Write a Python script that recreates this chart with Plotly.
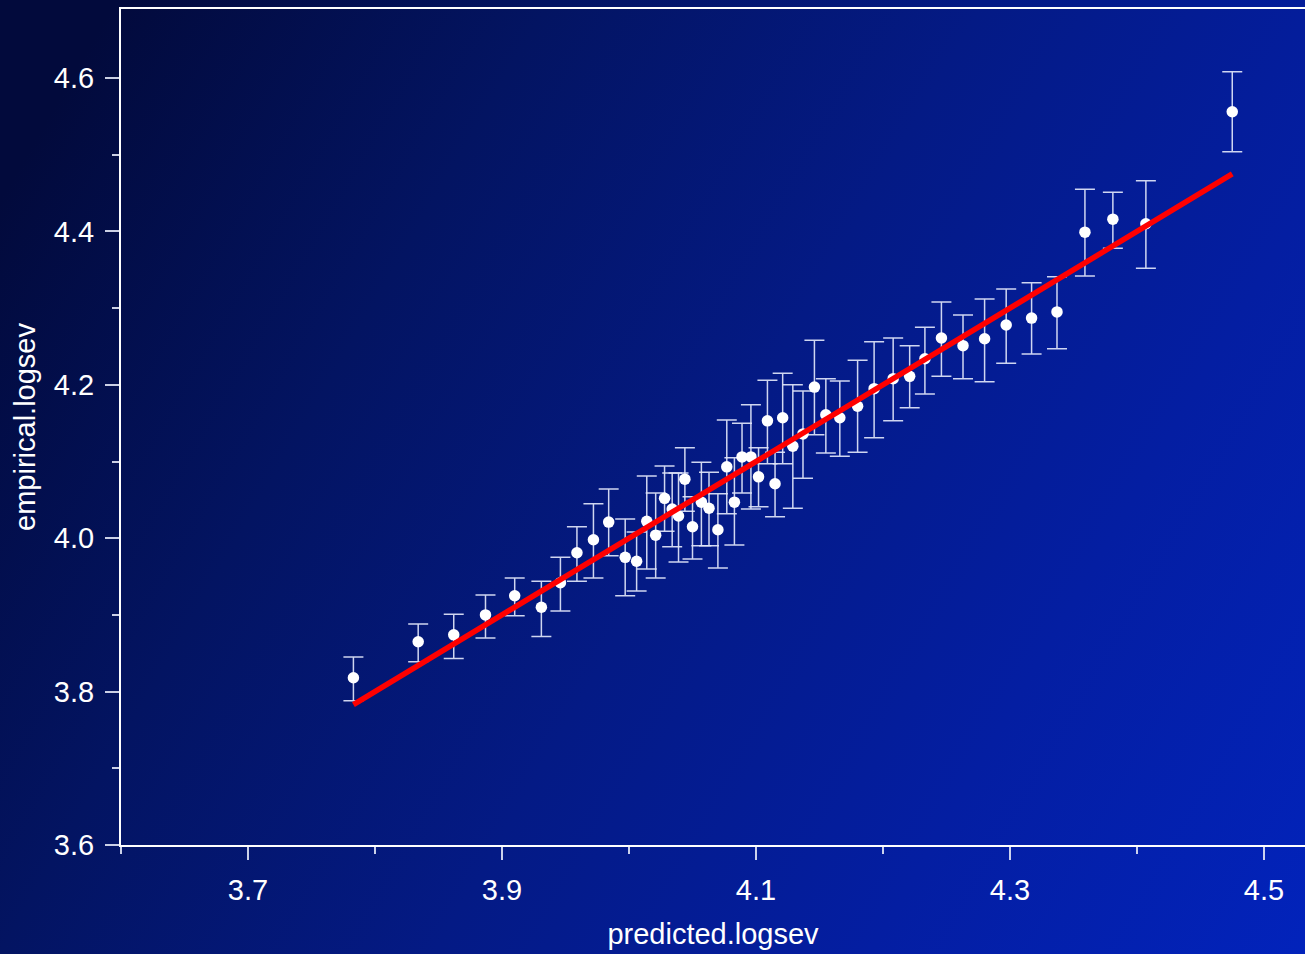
import base64
import plotly.graph_objects as go

# ---- data ----
predicted = [3.783, 3.834, 3.862, 3.887, 3.910, 3.931, 3.946, 3.959, 3.972, 3.984,
             3.997, 4.006, 4.014, 4.021, 4.028, 4.034, 4.039, 4.044, 4.050, 4.057,
             4.063, 4.070, 4.077, 4.083, 4.089, 4.096, 4.102, 4.109, 4.115, 4.121,
             4.129, 4.137, 4.146, 4.155, 4.166, 4.180, 4.193, 4.208, 4.221, 4.233,
             4.246, 4.263, 4.280, 4.297, 4.317, 4.337, 4.359, 4.381, 4.407, 4.475]
empirical = [3.818, 3.865, 3.874, 3.900, 3.925, 3.910, 3.942, 3.981, 3.998, 4.021,
             3.975, 3.970, 4.022, 4.004, 4.052, 4.038, 4.029, 4.077, 4.015, 4.047,
             4.039, 4.011, 4.093, 4.047, 4.106, 4.106, 4.080, 4.153, 4.071, 4.157,
             4.120, 4.136, 4.197, 4.161, 4.157, 4.172, 4.195, 4.208, 4.211, 4.234,
             4.261, 4.251, 4.260, 4.278, 4.287, 4.295, 4.399, 4.416, 4.410, 4.556]
upper = [3.845, 3.888, 3.901, 3.926, 3.948, 3.944, 3.975, 4.015, 4.045, 4.064,
         4.025, 4.008, 4.081, 4.059, 4.094, 4.085, 4.085, 4.118, 4.054, 4.099,
         4.086, 4.058, 4.154, 4.105, 4.150, 4.174, 4.118, 4.206, 4.112, 4.215,
         4.200, 4.192, 4.258, 4.208, 4.205, 4.232, 4.256, 4.261, 4.251, 4.275,
         4.308, 4.291, 4.312, 4.325, 4.333, 4.341, 4.455, 4.451, 4.466, 4.608]
lower = [3.788, 3.839, 3.843, 3.870, 3.899, 3.872, 3.905, 3.944, 3.948, 3.977,
         3.925, 3.931, 3.960, 3.948, 4.009, 3.989, 3.969, 4.035, 3.973, 3.990,
         3.990, 3.961, 4.032, 3.991, 4.059, 4.038, 4.041, 4.097, 4.028, 4.097,
         4.039, 4.078, 4.135, 4.111, 4.107, 4.112, 4.131, 4.153, 4.170, 4.188,
         4.211, 4.208, 4.204, 4.228, 4.240, 4.247, 4.342, 4.378, 4.352, 4.504]

x_ticks = [3.7, 3.9, 4.1, 4.3, 4.5]
y_ticks = [3.6, 3.8, 4.0, 4.2, 4.4, 4.6]

err_plus = [u - e for u, e in zip(upper, empirical)]
err_minus = [e - l for e, l in zip(empirical, lower)]

W, H = 1305, 954
ML, MR, MT, MB = 121, 0, 9, 109
PW, PH = W - ML - MR, H - MT - MB

# background gradient (decorative)
svg = f'''<svg xmlns="http://www.w3.org/2000/svg" width="{W}" height="{H}" viewBox="0 0 {W} {H}" preserveAspectRatio="none">
<defs><linearGradient id="g" gradientUnits="userSpaceOnUse" x1="0" y1="200" x2="{W}" y2="{H}">
<stop offset="0" stop-color="#020a3c"/>
<stop offset="0.25" stop-color="#031462"/>
<stop offset="0.5" stop-color="#041a85"/>
<stop offset="0.75" stop-color="#041ea2"/>
<stop offset="1" stop-color="#0223bb"/>
</linearGradient></defs>
<rect x="0" y="0" width="{W}" height="{H}" fill="url(#g)"/>
</svg>'''
src = "data:image/svg+xml;base64," + base64.b64encode(svg.encode()).decode()

fig = go.Figure()

fig.add_trace(go.Scatter(
    x=predicted, y=empirical, mode="markers",
    marker=dict(color="white", size=11.5, line=dict(width=0)),
    error_y=dict(type="data", symmetric=False, array=err_plus, arrayminus=err_minus,
                 color="rgba(225,230,250,0.92)", thickness=1.5, width=10),
    showlegend=False, hoverinfo="skip",
))

fig.add_trace(go.Scatter(
    x=[min(predicted), max(predicted)], y=[min(predicted), max(predicted)],
    mode="lines", line=dict(color="#ff0000", width=5.5),
    showlegend=False, hoverinfo="skip",
))

font = dict(family="Liberation Sans, Arial, sans-serif", color="white", size=29)

fig.update_layout(
    width=W, height=H,
    margin=dict(l=ML, r=MR, t=MT, b=MB, pad=0),
    paper_bgcolor="#041a85",
    plot_bgcolor="rgba(0,0,0,0)",
    font=font,
    images=[dict(source=src, xref="paper", yref="paper",
                 x=-ML / PW, y=1 + MT / PH, sizex=W / PW, sizey=H / PH,
                 xanchor="left", yanchor="top", sizing="stretch", layer="below")],
    xaxis=dict(
        range=[3.6, 3.6 + PW / 1270.0],
        tickvals=x_ticks, ticktext=[f"{v:.1f}" for v in x_ticks],
        ticks="outside", ticklen=13, tickwidth=1.5, tickcolor="rgba(225,230,245,0.9)",
        minor=dict(tickvals=[3.6, 3.8, 4.0, 4.2, 4.4], ticks="outside", ticklen=7,
                   tickwidth=1.5, tickcolor="rgba(225,230,245,0.9)", showgrid=False),
        ticklabelstandoff=5,
        showline=True, linecolor="white", linewidth=2, mirror=True,
        showgrid=False, zeroline=False,
        title=dict(text="predicted.logsev", standoff=19, font=font),
        tickfont=font,
    ),
    yaxis=dict(
        range=[3.6, 3.6 + PH / 767.0],
        tickvals=y_ticks, ticktext=[f"{v:.1f}" for v in y_ticks],
        ticks="outside", ticklen=14, tickwidth=1.5, tickcolor="rgba(225,230,245,0.9)",
        minor=dict(tickvals=[3.7, 3.9, 4.1, 4.3, 4.5], ticks="outside", ticklen=7,
                   tickwidth=1.5, tickcolor="rgba(225,230,245,0.9)", showgrid=False),
        ticklabelstandoff=5,
        showline=True, linecolor="white", linewidth=2, mirror=False,
        showgrid=False, zeroline=False,
        title=dict(text="empirical.logsev", standoff=10, font=font),
        tickfont=font,
    ),
)

fig.write_html(
    "out.html",
    config={"displayModeBar": False},
    post_script="document.body.style.margin='0';document.body.style.padding='0';"
                "document.body.style.background='#020a3c';",
)
